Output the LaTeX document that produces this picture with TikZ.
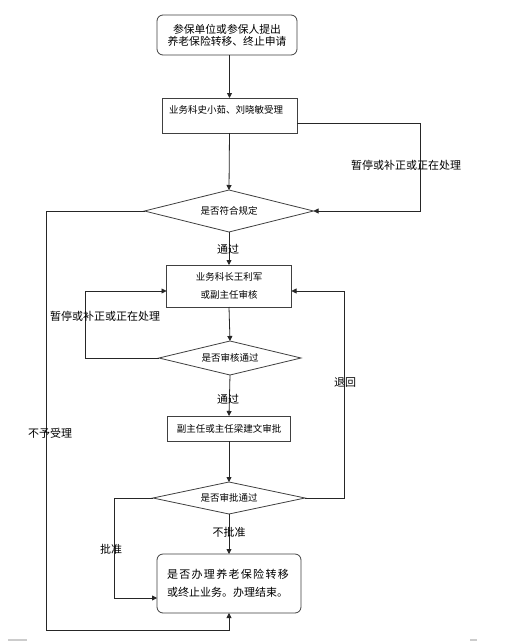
\documentclass[tikz,border=0pt]{standalone}
\usepackage{fontspec}
\setmainfont{Noto Sans CJK SC}
\usetikzlibrary{arrows.meta,shapes.geometric}
\tikzset{
  ln/.style={draw=black!85, line width=0.8pt},
  arr/.style={ln, -{Triangle[length=5pt,width=5pt]}},
  boxs/.style={draw=black!75, line width=0.8pt, rectangle, inner sep=0pt, outer sep=0pt, align=center, font=\fontsize{9.5}{18}\selectfont},
  rbox/.style={boxs, rounded corners=6pt},
  dia/.style={draw=black!75, line width=0.8pt, diamond, inner sep=0pt, outer sep=0pt, font=\fontsize{9.5}{12}\selectfont},
  lbl/.style={inner sep=0pt, font=\fontsize{11}{13}\selectfont}
}
\begin{document}
\begin{tikzpicture}[x=1pt,y=-1pt]
\useasboundingbox (0,0) rectangle (521,643);
\fill[white] (0,0) rectangle (521,643);

\node[rbox, minimum width=140pt, minimum height=40pt, font=\fontsize{10.8}{12}\selectfont] (top) at (227,35) {参保单位或参保人提出\\养老保险转移、终止申请};
\node[boxs, minimum width=135pt, minimum height=35pt,
  label={[anchor=north west, xshift=7pt, yshift=-7pt, inner sep=0pt, font=\fontsize{9.5}{12}\selectfont]north west:业务科史小茹、刘晓敏受理}] (box2) at (229.5,115.5) {};
\node[dia, aspect=4, minimum width=169pt, minimum height=42pt] (d1) at (229,211) {是否符合规定};
\node[boxs, minimum width=125pt, minimum height=42pt] (box3) at (229,286) {业务科长王利军\\或副主任审核};
\node[dia, aspect=4.2, minimum width=142pt, minimum height=34pt] (d2) at (230,358) {是否审核通过};
\node[boxs, minimum width=123pt, minimum height=25pt] (box4) at (229,428.5) {副主任或主任梁建文审批};
\node[dia, aspect=4.75, minimum width=152pt, minimum height=32pt] (d3) at (229,498) {是否审批通过};
\node[rbox, minimum width=144pt, minimum height=59pt, text width=124pt, align=left, font=\fontsize{11}{18}\selectfont] (end) at (229,583.5) {{\addfontfeature{LetterSpace=12}是否办理养老保险转移}\\或终止业务。办理结束。};

\coordinate (r1) at (420,123);
\coordinate (bl) at (46,630);
\coordinate (l2) at (85,291);
\coordinate (r3) at (344,291);
\coordinate (l3) at (114,598);

\draw[arr] (top.south -| box2.north) -- (box2.north);
\draw[arr] (box2.south) -- (d1.north);
\draw[arr] (box2.east |- r1) -- (r1) |- (d1.east);
\node[lbl] (t1) at (406,165) {暂停或补正或正在处理};
\draw[arr] (d1.south) -- (box3.north);
\node[lbl] (t2) at (228,249) {通过};
\draw[arr] (d1.west) -| (bl) -| (end.south);
\node[lbl] (t3) at (50,433) {不予受理};
\draw[arr] (box3.south) -- (d2.north);
\draw[arr] (d2.west) -| (l2) -- (box3.west |- l2);
\node[lbl] (t4) at (105,316) {暂停或补正或正在处理};
\draw[arr] (d2.south) -- (box4.north);
\node[lbl] (t5) at (228,399) {通过};
\draw[arr] (box4.south) -- (d3.north);
\draw[arr] (d3.east) -| (r3) -- (box3.east |- r3);
\node[lbl] (t6) at (345,383) {退回};
\draw[arr] (d3.west) -| (l3) -- (end.west |- l3);
\node[lbl] (t7) at (111,549) {批准};
\draw[arr] (d3.south) -- (end.north);
\node[lbl] (t8) at (229,532) {不批准};

\draw[black!20, line width=1.5pt] (8,640) -- (27,640);
\draw[black!20, line width=1.5pt] (470,640) -- (477,640);
\end{tikzpicture}
\end{document}
